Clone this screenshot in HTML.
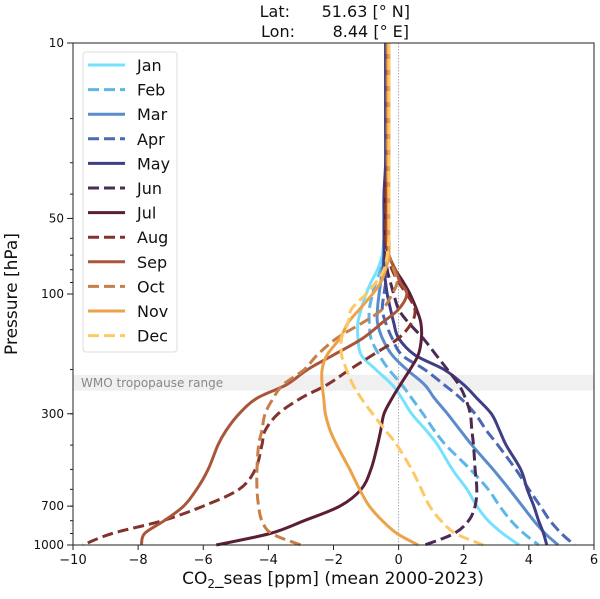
<!DOCTYPE html>
<html><head><meta charset="utf-8"><style>
body{margin:0;background:#fff;}
svg text{font-family:"DejaVu Sans","Liberation Sans",sans-serif;}
</style></head><body>
<svg id="chart" width="600" height="594" viewBox="0 0 600 594">
<g id="layer"></g>
</svg>
<script>
const pressureLevels = [10,20,30,40,50,60,70,80,90,100,115,130,150,175,200,230,260,300,350,400,500,600,700,800,900,1000];
const monthNames = ["Jan","Feb","Mar","Apr","May","Jun","Jul","Aug","Sep","Oct","Nov","Dec"];
const janValues = [-0.35,-0.35,-0.35,-0.4,-0.4,-0.45,-0.5,-0.65,-0.85,-1.0,-1.15,-1.25,-1.25,-1.15,-0.7,-0.2,0.1,0.4,0.85,1.2,1.65,2.1,2.4,2.75,3.2,3.7];
const febValues = [-0.35,-0.35,-0.35,-0.35,-0.4,-0.4,-0.45,-0.55,-0.7,-0.8,-0.9,-0.9,-0.85,-0.6,-0.3,0.1,0.4,0.75,1.1,1.45,2.2,2.75,3.1,3.45,3.85,4.3];
const marValues = [-0.4,-0.4,-0.4,-0.4,-0.45,-0.45,-0.45,-0.5,-0.55,-0.6,-0.65,-0.65,-0.5,-0.2,0.25,0.8,1.1,1.5,1.9,2.25,2.9,3.4,3.8,4.15,4.5,4.9];
const aprValues = [-0.35,-0.35,-0.35,-0.4,-0.4,-0.4,-0.4,-0.4,-0.4,-0.45,-0.5,-0.4,-0.2,0.1,0.8,1.4,1.9,2.35,2.7,3.05,3.6,4.0,4.35,4.65,5.0,5.4];
const mayValues = [-0.4,-0.4,-0.4,-0.45,-0.45,-0.45,-0.45,-0.45,-0.4,-0.35,-0.25,-0.15,0.0,0.5,1.4,2.0,2.4,2.85,3.1,3.3,3.75,3.95,4.15,4.3,4.45,4.55];
const junValues = [-0.35,-0.35,-0.35,-0.4,-0.4,-0.4,-0.4,-0.35,-0.25,-0.15,0.0,0.3,0.75,1.15,1.5,1.85,2.05,2.2,2.25,2.3,2.35,2.4,2.35,2.15,1.7,0.8];
const julValues = [-0.35,-0.35,-0.35,-0.4,-0.4,-0.4,-0.3,-0.1,0.15,0.35,0.55,0.68,0.7,0.6,0.35,0.05,-0.2,-0.45,-0.55,-0.65,-0.85,-1.15,-1.8,-2.9,-3.95,-5.6];
const augValues = [-0.35,-0.35,-0.35,-0.4,-0.4,-0.4,-0.35,-0.2,0.0,0.25,0.5,0.4,0.0,-0.8,-1.5,-2.2,-3.0,-3.7,-4.1,-4.2,-4.4,-4.9,-6.0,-7.25,-8.8,-9.7];
const sepValues = [-0.35,-0.35,-0.35,-0.35,-0.35,-0.35,-0.3,-0.1,0.05,0.25,0.0,-0.5,-1.1,-2.0,-2.8,-3.45,-4.35,-4.9,-5.3,-5.55,-5.85,-6.2,-6.6,-7.2,-7.8,-7.9];
const octValues = [-0.35,-0.35,-0.35,-0.3,-0.3,-0.3,-0.3,-0.15,-0.05,-0.2,-0.5,-1.1,-1.9,-2.5,-2.9,-3.55,-3.85,-4.1,-4.2,-4.3,-4.35,-4.35,-4.3,-4.2,-3.9,-3.0];
const novValues = [-0.3,-0.3,-0.3,-0.3,-0.3,-0.3,-0.3,-0.4,-0.55,-0.8,-1.2,-1.55,-1.8,-2.2,-2.35,-2.35,-2.3,-2.25,-2.1,-1.9,-1.5,-1.2,-0.9,-0.5,-0.05,0.6];
const decValues = [-0.3,-0.3,-0.3,-0.3,-0.3,-0.3,-0.35,-0.45,-0.7,-1.0,-1.45,-1.55,-1.75,-1.75,-1.6,-1.4,-1.15,-0.8,-0.4,-0.05,0.4,0.7,0.95,1.3,1.75,2.6];
const xTicks = [-10,-8,-6,-4,-2,0,2,4,6];
const xTickLabels = ["\u221210","\u22128","\u22126","\u22124","\u22122","0","2","4","6"];
const yTicks = [10,50,100,300,700,1000];
const yTickLabels = ["10","50","100","300","700","1000"];
const tropopauseRange = [210,243];

const series = [janValues,febValues,marValues,aprValues,mayValues,junValues,julValues,augValues,sepValues,octValues,novValues,decValues];
const colors = ["#74e2ff","#5db6e8","#5a8ccd","#4a68b3","#3e3f86","#4b2b55","#5a1e35","#83322e","#a9553a","#c77f47","#eba24a","#fec964"];
const dashed = [false,true,false,true,false,true,false,true,false,true,false,true];

const L=73,R=594,T=43,B=545;
const xS = v => L + (v+10)/16*(R-L);
const yS = p => T + Math.log10(p/10)/2*(B-T);
const NS="http://www.w3.org/2000/svg";
const layer=document.getElementById('layer');
function mk(tag,attrs,parent){const e=document.createElementNS(NS,tag);for(const k in attrs)e.setAttribute(k,attrs[k]);(parent||layer).appendChild(e);return e;}
function smooth(pts){
  let d='M'+pts[0][0].toFixed(1)+','+pts[0][1].toFixed(1);
  for(let i=0;i<pts.length-1;i++){
    const p0=pts[i-1]||pts[i],p1=pts[i],p2=pts[i+1],p3=pts[i+2]||p2;
    const c1=[p1[0]+(p2[0]-p0[0])/6,p1[1]+(p2[1]-p0[1])/6];
    const c2=[p2[0]-(p3[0]-p1[0])/6,p2[1]-(p3[1]-p1[1])/6];
    d+=' C'+c1.map(n=>n.toFixed(1)).join(',')+' '+c2.map(n=>n.toFixed(1)).join(',')+' '+p2[0].toFixed(1)+','+p2[1].toFixed(1);
  }
  return d;
}

const band=mk('rect',{x:L,y:yS(tropopauseRange[0]),width:R-L,height:yS(tropopauseRange[1])-yS(tropopauseRange[0]),fill:'#ececec',opacity:0.8});


const bt=mk('text',{x:81,y:(yS(tropopauseRange[0])+yS(tropopauseRange[1]))/2+4,'font-size':12,fill:'#888'});
bt.textContent='WMO tropopause range';



const zl=mk('line',{x1:xS(0),x2:xS(0),y1:T,y2:B,stroke:'#999','stroke-width':0.8,'stroke-dasharray':'1.5,1.5'});



series.forEach((vals,i)=>{
  const pts=vals.map((v,j)=>[xS(v),yS(pressureLevels[j])]);
  const p=mk('path',{d:smooth(pts),fill:'none',stroke:colors[i],'stroke-width':3,'stroke-linejoin':'round'});
  if(dashed[i])p.setAttribute('stroke-dasharray','11,5');
  
  
});

const fr=mk('rect',{x:L,y:T,width:R-L,height:B-T,fill:'none',stroke:'#222','stroke-width':1});



xTicks.forEach((t,i)=>{
  mk('line',{x1:xS(t),x2:xS(t),y1:B,y2:B+5,stroke:'#222'});
  const tx=mk('text',{x:xS(t),y:B+19,'font-size':13,'text-anchor':'middle',fill:'#111'});
  tx.textContent=xTickLabels[i];
  
  
});
for(let dec of [10,100]){for(let m=2;m<=9;m++){const p=dec*m;mk('line',{x1:L-3,x2:L,y1:yS(p),y2:yS(p),stroke:'#222'});}}
yTicks.forEach((t,i)=>{
  mk('line',{x1:L-6,x2:L,y1:yS(t),y2:yS(t),stroke:'#222'});
  const ty=mk('text',{x:L-9,y:yS(t)+4,'font-size':12,'text-anchor':'end',fill:'#111'});
  ty.textContent=yTickLabels[i];
  
  
});

const lg=mk('g',{});


mk('rect',{x:83,y:52,width:94,height:300,rx:3,fill:'#fff','fill-opacity':0.85,stroke:'#ddd'},lg);
monthNames.forEach((m,i)=>{
  const y=65+i*24.6;
  const ln=mk('line',{x1:88,x2:125,y1:y,y2:y,stroke:colors[i],'stroke-width':3},lg);
  if(dashed[i])ln.setAttribute('stroke-dasharray','11,5');
  const t=mk('text',{x:137,y:y+6,'font-size':16,fill:'#111'},lg);
  t.textContent=m;
  
  
});
</script>
<svg width="600" height="594" style="position:absolute;left:0;top:0">
<text x="290" y="17" font-size="16" text-anchor="end" fill="#111">Lat:</text>
<text x="410" y="17" font-size="16" text-anchor="end" fill="#111">51.63 [° N]</text>
<text x="295" y="37" font-size="16" text-anchor="end" fill="#111">Lon:</text>
<text x="409" y="37" font-size="16" text-anchor="end" fill="#111">8.44 [° E]</text>
<text x="333" y="584" font-size="17" text-anchor="middle" fill="#111">CO<tspan font-size="12" dy="4">2</tspan><tspan dy="-4">_seas [ppm] (mean 2000-2023)</tspan></text>
<text transform="translate(17,294) rotate(-90)" font-size="17" text-anchor="middle" fill="#111">Pressure [hPa]</text>
</svg>
</body></html>
